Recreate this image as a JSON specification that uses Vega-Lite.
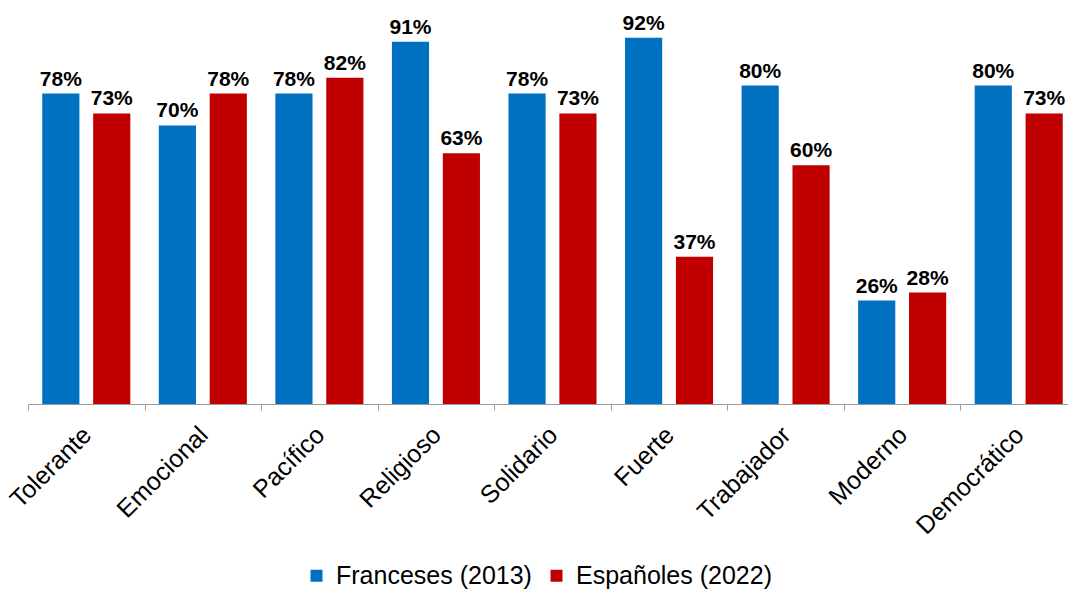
{
  "$schema": "https://vega.github.io/schema/vega-lite/v6.json",
  "width": 1040,
  "height": 398,
  "autosize": "none",
  "padding": {"left": 28, "top": 6, "right": 0, "bottom": 186},
  "config": {"view": {"stroke": null}, "font": "Liberation Sans"},
  "data": {
    "values": [
      {"trait": "Tolerante", "series": "Franceses (2013)", "value": 0.78},
      {"trait": "Tolerante", "series": "Españoles (2022)", "value": 0.73},
      {"trait": "Emocional", "series": "Franceses (2013)", "value": 0.70},
      {"trait": "Emocional", "series": "Españoles (2022)", "value": 0.78},
      {"trait": "Pacífico", "series": "Franceses (2013)", "value": 0.78},
      {"trait": "Pacífico", "series": "Españoles (2022)", "value": 0.82},
      {"trait": "Religioso", "series": "Franceses (2013)", "value": 0.91},
      {"trait": "Religioso", "series": "Españoles (2022)", "value": 0.63},
      {"trait": "Solidario", "series": "Franceses (2013)", "value": 0.78},
      {"trait": "Solidario", "series": "Españoles (2022)", "value": 0.73},
      {"trait": "Fuerte", "series": "Franceses (2013)", "value": 0.92},
      {"trait": "Fuerte", "series": "Españoles (2022)", "value": 0.37},
      {"trait": "Trabajador", "series": "Franceses (2013)", "value": 0.80},
      {"trait": "Trabajador", "series": "Españoles (2022)", "value": 0.60},
      {"trait": "Moderno", "series": "Franceses (2013)", "value": 0.26},
      {"trait": "Moderno", "series": "Españoles (2022)", "value": 0.28},
      {"trait": "Democrático", "series": "Franceses (2013)", "value": 0.80},
      {"trait": "Democrático", "series": "Españoles (2022)", "value": 0.73}
    ]
  },
  "encoding": {
    "x": {
      "field": "trait", "type": "nominal", "sort": null,
      "scale": {"range": [0, 1049], "paddingInner": 0, "paddingOuter": 0},
      "axis": {
        "title": null, "labelAngle": -45, "labelFontSize": 25, "labelColor": "black",
        "domainColor": "#999999", "tickColor": "#999999", "tickSize": 6, "tickBand": "extent",
        "labelPadding": 12, "labelLimit": 0, "labelOffset": -8
      }
    },
    "xOffset": {
      "field": "series", "type": "nominal", "sort": ["Franceses (2013)", "Españoles (2022)"],
      "scale": {"paddingInner": 0.27, "paddingOuter": 0.28}
    },
    "y": {"field": "value", "type": "quantitative", "scale": {"domain": [0, 1]}, "axis": null}
  },
  "layer": [
    {
      "mark": {"type": "bar"},
      "encoding": {
        "color": {
          "field": "series", "type": "nominal",
          "scale": {"domain": ["Franceses (2013)", "Españoles (2022)"], "range": ["#0070C0", "#C00000"]},
          "legend": {
            "title": null, "orient": "none", "direction": "horizontal",
            "legendX": 276, "legendY": 557, "symbolType": "square", "symbolSize": 144,
            "symbolStrokeWidth": 0, "labelFontSize": 25, "labelColor": "black",
            "labelOffset": 7, "columnPadding": 12, "labelLimit": 0
          }
        }
      }
    },
    {
      "mark": {"type": "text", "baseline": "alphabetic", "dy": -8, "fontSize": 21, "fontWeight": "bold", "color": "black"},
      "encoding": {"text": {"field": "value", "type": "quantitative", "format": ".0%"}}
    }
  ]
}
